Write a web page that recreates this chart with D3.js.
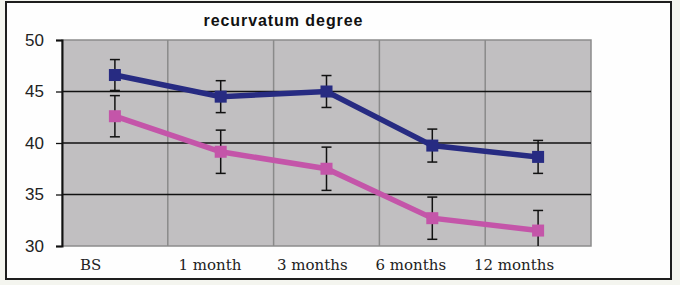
<!DOCTYPE html>
<html>
<head>
<meta charset="utf-8">
<script src="https://cdn.jsdelivr.net/npm/d3@7"></script>
<style>
  html, body { margin: 0; padding: 0; background: #f4f5ef; }
  #chart { width: 680px; height: 285px; }
</style>
</head>
<body>
<div id="chart"></div>
<script>
const categories = ['BS', '1 month', '3 months', '6 months', '12 months'];
const blueValues = [46.6, 44.5, 45.0, 39.75, 38.65];
const blueErrors = [1.5, 1.55, 1.55, 1.6, 1.6];
const pinkValues = [42.6, 39.15, 37.5, 32.7, 31.5];
const pinkErrors = [2.0, 2.1, 2.1, 2.05, 1.95];
const yTicks = [30, 35, 40, 45, 50];

const series = [
  { values: pinkValues, errors: pinkErrors, color: '#c455a9' },
  { values: blueValues, errors: blueErrors, color: '#272b82' }
];

const width = 680;
const height = 285;
const plot = { left: 62, right: 591, top: 40, bottom: 246 };

const svg = d3.select('#chart')
  .append('svg')
  .attr('width', width)
  .attr('height', height);

// frame
svg.append('rect')
  .attr('x', 6).attr('y', 2)
  .attr('width', 665).attr('height', 277)
  .attr('fill', '#fefefe')
  .attr('stroke', '#1e1e1e')
  .attr('stroke-width', 2);

const x = d3.scaleBand()
  .domain(categories)
  .range([plot.left, plot.right]);

const y = d3.scaleLinear()
  .domain([30, 50])
  .range([plot.bottom, plot.top]);

const labelX = d3.scalePoint()
  .domain(categories)
  .range([80, 474]);

svg.append('rect')
  .attr('x', plot.left).attr('y', plot.top)
  .attr('width', plot.right - plot.left)
  .attr('height', plot.bottom - plot.top)
  .attr('fill', '#c1bfc1')
  .attr('stroke', '#8c8c8c')
  .attr('stroke-width', 1.5);

// vertical grid
svg.append('g')
  .selectAll('line')
  .data(categories.slice(1))
  .enter()
  .append('line')
  .attr('x1', d => x(d)).attr('x2', d => x(d))
  .attr('y1', plot.top).attr('y2', plot.bottom)
  .attr('stroke', '#8a8a8a')
  .attr('stroke-width', 1.5);

// horizontal grid
svg.append('g')
  .selectAll('line')
  .data(yTicks.slice(1, -1))
  .enter()
  .append('line')
  .attr('x1', plot.left).attr('x2', plot.right)
  .attr('y1', d => y(d)).attr('y2', d => y(d))
  .attr('stroke', '#111')
  .attr('stroke-width', 1.3);

// y axis
const yAxis = svg.append('g')
  .attr('transform', `translate(${plot.left},0)`)
  .call(d3.axisLeft(y).tickValues(yTicks).tickSize(6).tickPadding(12));
yAxis.select('.domain').attr('stroke', '#111').attr('stroke-width', 2);
yAxis.selectAll('.tick line').attr('stroke', '#111').attr('stroke-width', 1.3);
yAxis.selectAll('.tick text')
  .attr('fill', '#222')
  .style('font-family', '"Liberation Sans", Arial, sans-serif')
  .style('font-size', '17px');

// x labels
svg.append('g')
  .selectAll('text')
  .data(categories)
  .enter()
  .append('text')
  .attr('x', d => labelX(d))
  .attr('y', 270)
  .attr('fill', '#222')
  .style('font-family', '"DejaVu Serif", serif')
  .style('font-size', '15px')
  .text(d => d);

// title
svg.append('text')
  .attr('x', 283)
  .attr('y', 26)
  .attr('text-anchor', 'middle')
  .attr('fill', '#111')
  .style('font-family', '"Liberation Sans", Arial, sans-serif')
  .style('font-weight', 'bold')
  .style('font-size', '16px')
  .attr('textLength', 159)
  .text('recurvatum degree');

const cx = d => x(d) + x.bandwidth() / 2;
const clampY = v => y(Math.max(30, Math.min(50, v)));

const line = d3.line()
  .x((d, i) => cx(categories[i]))
  .y(d => y(d));

series.forEach(s => {
  const g = svg.append('g');

  g.append('path')
    .datum(s.values)
    .attr('d', line)
    .attr('fill', 'none')
    .attr('stroke', s.color)
    .attr('stroke-width', 5.5);

  const err = g.selectAll('.err')
    .data(s.values)
    .enter()
    .append('g');

  err.append('line')
    .attr('x1', (d, i) => cx(categories[i]))
    .attr('x2', (d, i) => cx(categories[i]))
    .attr('y1', (d, i) => clampY(d + s.errors[i]))
    .attr('y2', (d, i) => clampY(d - s.errors[i]))
    .attr('stroke', '#111')
    .attr('stroke-width', 1.5);

  err.append('line')
    .attr('x1', (d, i) => cx(categories[i]) - 5)
    .attr('x2', (d, i) => cx(categories[i]) + 5)
    .attr('y1', (d, i) => y(d + s.errors[i]))
    .attr('y2', (d, i) => y(d + s.errors[i]))
    .attr('stroke', '#111')
    .attr('stroke-width', 1.5);

  err.filter((d, i) => d - s.errors[i] >= 30)
    .append('line')
    .attr('x1', function() { return +d3.select(this.parentNode).select('line').attr('x1') - 5; })
    .attr('x2', function() { return +d3.select(this.parentNode).select('line').attr('x1') + 5; })
    .attr('y1', function(d) { return +d3.select(this.parentNode).select('line').attr('y2'); })
    .attr('y2', function(d) { return +d3.select(this.parentNode).select('line').attr('y2'); })
    .attr('stroke', '#111')
    .attr('stroke-width', 1.5);

  g.selectAll('rect')
    .data(s.values)
    .enter()
    .append('rect')
    .attr('x', (d, i) => cx(categories[i]) - 6)
    .attr('y', d => y(d) - 6)
    .attr('width', 12)
    .attr('height', 12)
    .attr('fill', s.color);
});
</script>
</body>
</html>
